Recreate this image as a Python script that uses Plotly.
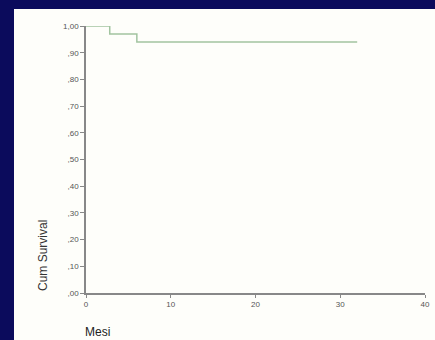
import plotly.graph_objects as go

# Data
months = [0, 2.8, 6.0, 32.0]
cum_survival = [1.00, 0.97, 0.94, 0.94]

y_tick_vals = [0, 0.1, 0.2, 0.3, 0.4, 0.5, 0.6, 0.7, 0.8, 0.9, 1.0]
y_tick_text = [",00", ",10", ",20", ",30", ",40", ",50", ",60", ",70", ",80", ",90", "1,00"]
x_tick_vals = [0, 10, 20, 30, 40]
x_tick_text = ["0", "10", "20", "30", "40"]

W, H = 435, 340
ml, mr, mt, mb = 86, 10, 26, 47
pw, ph = W - ml - mr, H - mt - mb
NAVY = "#0b0b5c"
PANEL = "#fefefa"

def px_x(x):
    return (x - ml) / pw

def px_y(y):
    return (H - mb - y) / ph

fig = go.Figure()
fig.add_trace(go.Scatter(
    x=months, y=cum_survival, mode="lines",
    line=dict(shape="hv", color="#a2c4a0", width=1.5),
    showlegend=False, hoverinfo="skip",
))

# navy frame: left band and top band
fig.add_shape(type="rect", xref="paper", yref="paper",
              x0=px_x(-5), x1=px_x(14), y0=px_y(H + 5), y1=px_y(-5),
              fillcolor=NAVY, line=dict(width=0), layer="below")
fig.add_shape(type="rect", xref="paper", yref="paper",
              x0=px_x(-5), x1=px_x(W + 5), y0=px_y(9), y1=px_y(-5),
              fillcolor=NAVY, line=dict(width=0), layer="below")

font_color = "#555555"
fig.update_layout(
    width=W, height=H, autosize=False,
    margin=dict(l=ml, r=mr, t=mt, b=mb, autoexpand=False),
    paper_bgcolor=PANEL,
    plot_bgcolor="rgba(0,0,0,0)",
    font=dict(family="Liberation Sans, Arial, sans-serif", size=8, color=font_color),
    xaxis=dict(range=[0, 40], tickvals=x_tick_vals, ticktext=x_tick_text,
               showgrid=False, zeroline=False, showline=True, linecolor="#888888",
               linewidth=1.5, ticks="outside", ticklen=3, tickcolor="#888888",
               tickfont=dict(size=8, color=font_color), fixedrange=True,
               automargin=False),
    yaxis=dict(range=[0, 1], tickvals=y_tick_vals, ticktext=y_tick_text,
               showgrid=False, zeroline=False, showline=True, linecolor="#888888",
               linewidth=1.5, ticks="outside", ticklen=4, tickcolor="#888888",
               tickfont=dict(size=8, color=font_color), fixedrange=True,
               automargin=False),
    annotations=[
        dict(text="Mesi", xref="paper", yref="paper", x=px_x(83), y=px_y(332),
             xanchor="left", yanchor="middle", showarrow=False,
             font=dict(size=12, color="#222222")),
        dict(text="Cum Survival", xref="paper", yref="paper", x=px_x(43), y=px_y(255),
             xanchor="center", yanchor="middle", textangle=-90, showarrow=False,
             font=dict(size=12, color="#333333")),
    ],
)

fig.write_html(
    "out.html",
    config={"displayModeBar": False, "responsive": False},
    post_script="document.body.style.margin='0';document.body.style.overflow='hidden';document.body.style.background='#fefefa';",
)
